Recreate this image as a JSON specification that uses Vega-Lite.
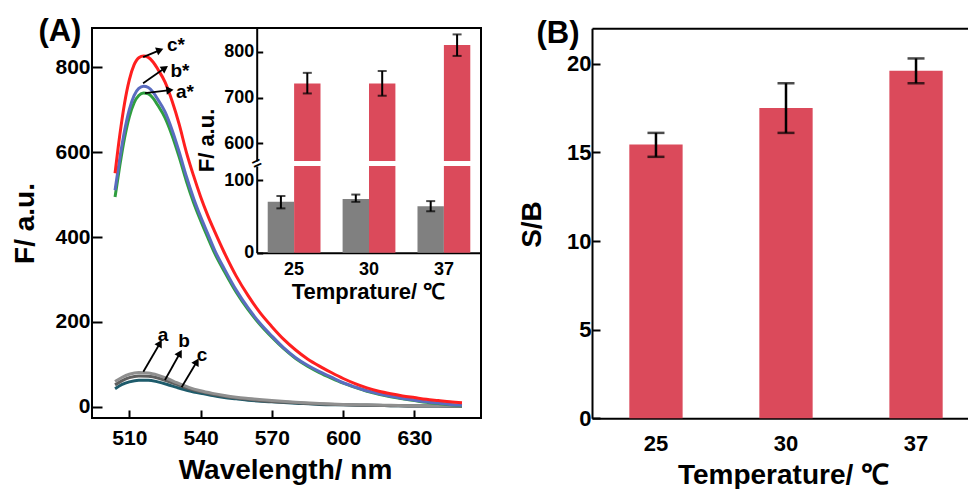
{
  "$schema": "https://vega.github.io/schema/vega-lite/v6.json",
  "width": 968,
  "height": 489,
  "autosize": "none",
  "padding": 0,
  "background": "white",
  "config": {
    "font": "Liberation Sans",
    "view": {"stroke": null},
    "axis": {
      "labelFont": "Liberation Sans", "labelFontWeight": "bold", "labelColor": "black",
      "titleFont": "Liberation Sans", "titleFontWeight": "bold", "titleColor": "black",
      "domainColor": "black", "domainWidth": 2, "tickColor": "black", "tickWidth": 2,
      "grid": false, "labelFlush": false, "labelOverlap": false
    },
    "text": {"font": "Liberation Sans", "fontWeight": "bold", "color": "black"}
  },
  "datasets": {
    "spectra": [
      {"curve":"c","wl":504,"F":43},{"curve":"c","wl":507,"F":53},{"curve":"c","wl":510,"F":59},{"curve":"c","wl":514,"F":63},{"curve":"c","wl":518,"F":63},{"curve":"c","wl":522,"F":59},{"curve":"c","wl":526,"F":53},{"curve":"c","wl":530,"F":46},{"curve":"c","wl":535,"F":38},{"curve":"c","wl":540,"F":32},{"curve":"c","wl":545,"F":27},{"curve":"c","wl":550,"F":22},{"curve":"c","wl":555,"F":19},{"curve":"c","wl":560,"F":16},{"curve":"c","wl":570,"F":12},{"curve":"c","wl":580,"F":9},{"curve":"c","wl":590,"F":6},{"curve":"c","wl":600,"F":5},{"curve":"c","wl":610,"F":4},{"curve":"c","wl":620,"F":3},{"curve":"c","wl":630,"F":2},{"curve":"c","wl":640,"F":2},{"curve":"c","wl":650,"F":1},
      {"curve":"b","wl":504,"F":52},{"curve":"b","wl":507,"F":62},{"curve":"b","wl":510,"F":69},{"curve":"b","wl":514,"F":73},{"curve":"b","wl":518,"F":72},{"curve":"b","wl":522,"F":68},{"curve":"b","wl":526,"F":61},{"curve":"b","wl":530,"F":53},{"curve":"b","wl":535,"F":43},{"curve":"b","wl":540,"F":36},{"curve":"b","wl":545,"F":30},{"curve":"b","wl":550,"F":25},{"curve":"b","wl":555,"F":21},{"curve":"b","wl":560,"F":18},{"curve":"b","wl":570,"F":13},{"curve":"b","wl":580,"F":10},{"curve":"b","wl":590,"F":7},{"curve":"b","wl":600,"F":5},{"curve":"b","wl":610,"F":4},{"curve":"b","wl":620,"F":3},{"curve":"b","wl":630,"F":2},{"curve":"b","wl":640,"F":2},{"curve":"b","wl":650,"F":1},
      {"curve":"a","wl":504,"F":60},{"curve":"a","wl":507,"F":70},{"curve":"a","wl":510,"F":77},{"curve":"a","wl":514,"F":81},{"curve":"a","wl":518,"F":80},{"curve":"a","wl":522,"F":75},{"curve":"a","wl":526,"F":67},{"curve":"a","wl":530,"F":57},{"curve":"a","wl":535,"F":46},{"curve":"a","wl":540,"F":38},{"curve":"a","wl":545,"F":32},{"curve":"a","wl":550,"F":27},{"curve":"a","wl":555,"F":23},{"curve":"a","wl":560,"F":20},{"curve":"a","wl":570,"F":15},{"curve":"a","wl":580,"F":11},{"curve":"a","wl":590,"F":8},{"curve":"a","wl":600,"F":6},{"curve":"a","wl":610,"F":5},{"curve":"a","wl":620,"F":4},{"curve":"a","wl":630,"F":3},{"curve":"a","wl":640,"F":3},{"curve":"a","wl":650,"F":2},
      {"curve":"a*","wl":504,"F":494},{"curve":"a*","wl":506,"F":568},{"curve":"a*","wl":508,"F":633},{"curve":"a*","wl":510,"F":683},{"curve":"a*","wl":512,"F":716},{"curve":"a*","wl":514,"F":733},{"curve":"a*","wl":516,"F":739},{"curve":"a*","wl":518,"F":737},{"curve":"a*","wl":520,"F":727},{"curve":"a*","wl":522,"F":710},{"curve":"a*","wl":525,"F":681},{"curve":"a*","wl":528,"F":639},{"curve":"a*","wl":531,"F":588},{"curve":"a*","wl":534,"F":532},{"curve":"a*","wl":537,"F":482},{"curve":"a*","wl":540,"F":439},{"curve":"a*","wl":543,"F":399},{"curve":"a*","wl":546,"F":361},{"curve":"a*","wl":550,"F":319},{"curve":"a*","wl":555,"F":270},{"curve":"a*","wl":560,"F":229},{"curve":"a*","wl":565,"F":194},{"curve":"a*","wl":570,"F":164},{"curve":"a*","wl":575,"F":137},{"curve":"a*","wl":580,"F":114},{"curve":"a*","wl":585,"F":96},{"curve":"a*","wl":590,"F":81},{"curve":"a*","wl":595,"F":68},{"curve":"a*","wl":600,"F":56},{"curve":"a*","wl":605,"F":46},{"curve":"a*","wl":610,"F":37},{"curve":"a*","wl":615,"F":30},{"curve":"a*","wl":620,"F":24},{"curve":"a*","wl":625,"F":19},{"curve":"a*","wl":630,"F":15},{"curve":"a*","wl":635,"F":11},{"curve":"a*","wl":640,"F":8},{"curve":"a*","wl":645,"F":5},{"curve":"a*","wl":650,"F":3},
      {"curve":"b*","wl":504,"F":510},{"curve":"b*","wl":506,"F":585},{"curve":"b*","wl":508,"F":650},{"curve":"b*","wl":510,"F":700},{"curve":"b*","wl":512,"F":733},{"curve":"b*","wl":514,"F":750},{"curve":"b*","wl":516,"F":755},{"curve":"b*","wl":518,"F":752},{"curve":"b*","wl":520,"F":741},{"curve":"b*","wl":522,"F":724},{"curve":"b*","wl":525,"F":695},{"curve":"b*","wl":528,"F":652},{"curve":"b*","wl":531,"F":600},{"curve":"b*","wl":534,"F":543},{"curve":"b*","wl":537,"F":492},{"curve":"b*","wl":540,"F":448},{"curve":"b*","wl":543,"F":408},{"curve":"b*","wl":546,"F":368},{"curve":"b*","wl":550,"F":325},{"curve":"b*","wl":555,"F":275},{"curve":"b*","wl":560,"F":233},{"curve":"b*","wl":565,"F":197},{"curve":"b*","wl":570,"F":167},{"curve":"b*","wl":575,"F":139},{"curve":"b*","wl":580,"F":116},{"curve":"b*","wl":585,"F":98},{"curve":"b*","wl":590,"F":83},{"curve":"b*","wl":595,"F":70},{"curve":"b*","wl":600,"F":57},{"curve":"b*","wl":605,"F":47},{"curve":"b*","wl":610,"F":38},{"curve":"b*","wl":615,"F":31},{"curve":"b*","wl":620,"F":25},{"curve":"b*","wl":625,"F":20},{"curve":"b*","wl":630,"F":16},{"curve":"b*","wl":635,"F":12},{"curve":"b*","wl":640,"F":9},{"curve":"b*","wl":645,"F":6},{"curve":"b*","wl":650,"F":4},
      {"curve":"c*","wl":504,"F":550},{"curve":"c*","wl":506,"F":640},{"curve":"c*","wl":508,"F":715},{"curve":"c*","wl":510,"F":770},{"curve":"c*","wl":512,"F":805},{"curve":"c*","wl":514,"F":822},{"curve":"c*","wl":516,"F":826},{"curve":"c*","wl":518,"F":823},{"curve":"c*","wl":520,"F":812},{"curve":"c*","wl":522,"F":795},{"curve":"c*","wl":525,"F":765},{"curve":"c*","wl":528,"F":720},{"curve":"c*","wl":531,"F":665},{"curve":"c*","wl":534,"F":600},{"curve":"c*","wl":537,"F":545},{"curve":"c*","wl":540,"F":495},{"curve":"c*","wl":543,"F":451},{"curve":"c*","wl":546,"F":412},{"curve":"c*","wl":550,"F":363},{"curve":"c*","wl":555,"F":308},{"curve":"c*","wl":560,"F":262},{"curve":"c*","wl":565,"F":222},{"curve":"c*","wl":570,"F":189},{"curve":"c*","wl":575,"F":159},{"curve":"c*","wl":580,"F":134},{"curve":"c*","wl":585,"F":113},{"curve":"c*","wl":590,"F":96},{"curve":"c*","wl":595,"F":81},{"curve":"c*","wl":600,"F":67},{"curve":"c*","wl":605,"F":55},{"curve":"c*","wl":610,"F":45},{"curve":"c*","wl":615,"F":37},{"curve":"c*","wl":620,"F":31},{"curve":"c*","wl":625,"F":26},{"curve":"c*","wl":630,"F":22},{"curve":"c*","wl":635,"F":18},{"curve":"c*","wl":640,"F":15},{"curve":"c*","wl":645,"F":12},{"curve":"c*","wl":650,"F":10}
    ],
    "arrows": [
      {"name":"c*","wl":515.8,"F":823.5,"wl2":522.9,"F2":840},
      {"name":"b*","wl":515.8,"F":762,"wl2":525,"F2":797.6},
      {"name":"a*","wl":516.6,"F":738.8,"wl2":527.1,"F2":745.9},
      {"name":"a","wl":515.9,"F":83,"wl2":522.9,"F2":150},
      {"name":"b","wl":525,"F":63.5,"wl2":531.3,"F2":126.4},
      {"name":"c","wl":532,"F":46.4,"wl2":538.4,"F2":106.6}
    ],
    "labelsBig": [
      {"label":"c*","wl":529.6,"F":851.8},
      {"label":"b*","wl":531.3,"F":790},
      {"label":"a*","wl":533.4,"F":741}
    ],
    "labelsSmall": [
      {"label":"a","wl":524.2,"F":169},
      {"label":"b","wl":533,"F":155},
      {"label":"c","wl":540.6,"F":122}
    ],
    "panels": [
      {"label":"(A)","wl":480.8,"F":882.6},
      {"label":"(B)","wl":690.4,"F":877.9}
    ],
    "brk": [{"wl":563.7,"F":573}],
    "inset": [
      {"temp":"25","series":"blank","F":70,"lo":61,"hi":78},
      {"temp":"25","series":"signal","F":731,"lo":709,"hi":754},
      {"temp":"30","series":"blank","F":74,"lo":70,"hi":80},
      {"temp":"30","series":"signal","F":731,"lo":704,"hi":758},
      {"temp":"37","series":"blank","F":64,"lo":57,"hi":71},
      {"temp":"37","series":"signal","F":815,"lo":791,"hi":838}
    ],
    "sb": [
      {"temp":"25","SB":15.45,"lo":14.75,"hi":16.1},
      {"temp":"30","SB":17.5,"lo":16.1,"hi":18.9},
      {"temp":"37","SB":19.6,"lo":18.9,"hi":20.3}
    ]
  },
  "layer": [
    {
      "layer": [
        {
          "data": {"name": "spectra"},
          "mark": {"type": "line", "interpolate": "monotone", "strokeWidth": 3},
          "encoding": {
            "x": {"field": "wl", "type": "quantitative", "scale": {"domain": [494.3, 658], "range": [92, 481], "nice": false, "zero": false},
                  "axis": {"orient": "bottom", "offset": -71, "values": [510, 540, 570, 600, 630], "tickSize": -8, "labelPadding": 17, "labelFontSize": 21, "domain": false,
                           "title": "Wavelength/ nm", "titleFontSize": 28, "titleX": 285, "titleY": 52, "titleBaseline": "middle", "titleAlign": "center"}},
            "y": {"field": "F", "type": "quantitative", "scale": {"domain": [-26, 892], "range": [418, 28], "nice": false, "zero": false},
                  "axis": {"orient": "left", "offset": -92, "values": [0, 200, 400, 600, 800], "tickSize": -10, "labelPadding": 12, "labelFontSize": 21, "domain": false,
                           "title": "F/ a.u.", "titleFontSize": 28, "titleX": -67, "titleY": 223, "titleBaseline": "middle", "titleAlign": "center"}},
            "color": {"field": "curve", "type": "nominal", "legend": null,
                      "scale": {"domain": ["c", "b", "a", "a*", "b*", "c*"], "range": ["#1e5b6b", "#5f5f5f", "#8f8f8f", "#2e9e3e", "#5a6cc0", "#ff1f1f"]}}
          }
        },
        {
          "data": {"values": [{}]},
          "mark": {"type": "rect", "fill": "transparent", "stroke": "black", "strokeWidth": 2},
          "encoding": {
            "x": {"datum": 494.3, "type": "quantitative", "scale": {"domain": [494.3, 658], "range": [92, 481], "nice": false, "zero": false}},
            "x2": {"datum": 658},
            "y": {"datum": -26, "type": "quantitative", "scale": {"domain": [-26, 892], "range": [418, 28], "nice": false, "zero": false}},
            "y2": {"datum": 892}
          }
        },
        {
          "data": {"name": "arrows"},
          "mark": {"type": "rule", "color": "black", "strokeWidth": 1.8},
          "encoding": {
            "x": {"field": "wl", "type": "quantitative", "scale": {"domain": [494.3, 658], "range": [92, 481], "nice": false, "zero": false}},
            "y": {"field": "F", "type": "quantitative", "scale": {"domain": [-26, 892], "range": [418, 28], "nice": false, "zero": false}},
            "x2": {"field": "wl2"},
            "y2": {"field": "F2"}
          }
        },
        {
          "data": {"name": "arrows"},
          "transform": [{"filter": "datum.name === 'c*'"}],
          "mark": {"type": "point", "shape": "triangle-up", "filled": true, "color": "black", "opacity": 1, "size": 70, "angle": 68},
          "encoding": {
            "x": {"field": "wl2", "type": "quantitative", "scale": {"domain": [494.3, 658], "range": [92, 481], "nice": false, "zero": false}},
            "y": {"field": "F2", "type": "quantitative", "scale": {"domain": [-26, 892], "range": [418, 28], "nice": false, "zero": false}}
          }
        },
        {
          "data": {"name": "arrows"},
          "transform": [{"filter": "datum.name === 'b*'"}],
          "mark": {"type": "point", "shape": "triangle-up", "filled": true, "color": "black", "opacity": 1, "size": 70, "angle": 56},
          "encoding": {
            "x": {"field": "wl2", "type": "quantitative", "scale": {"domain": [494.3, 658], "range": [92, 481], "nice": false, "zero": false}},
            "y": {"field": "F2", "type": "quantitative", "scale": {"domain": [-26, 892], "range": [418, 28], "nice": false, "zero": false}}
          }
        },
        {
          "data": {"name": "arrows"},
          "transform": [{"filter": "datum.name === 'a*'"}],
          "mark": {"type": "point", "shape": "triangle-up", "filled": true, "color": "black", "opacity": 1, "size": 70, "angle": 83},
          "encoding": {
            "x": {"field": "wl2", "type": "quantitative", "scale": {"domain": [494.3, 658], "range": [92, 481], "nice": false, "zero": false}},
            "y": {"field": "F2", "type": "quantitative", "scale": {"domain": [-26, 892], "range": [418, 28], "nice": false, "zero": false}}
          }
        },
        {
          "data": {"name": "arrows"},
          "transform": [{"filter": "datum.name === 'a' || datum.name === 'b' || datum.name === 'c'"}],
          "mark": {"type": "point", "shape": "triangle-up", "filled": true, "color": "black", "opacity": 1, "size": 70, "angle": 30},
          "encoding": {
            "x": {"field": "wl2", "type": "quantitative", "scale": {"domain": [494.3, 658], "range": [92, 481], "nice": false, "zero": false}},
            "y": {"field": "F2", "type": "quantitative", "scale": {"domain": [-26, 892], "range": [418, 28], "nice": false, "zero": false}}
          }
        },
        {
          "data": {"name": "labelsBig"},
          "mark": {"type": "text", "fontSize": 19, "align": "center", "baseline": "middle"},
          "encoding": {
            "x": {"field": "wl", "type": "quantitative", "scale": {"domain": [494.3, 658], "range": [92, 481], "nice": false, "zero": false}},
            "y": {"field": "F", "type": "quantitative", "scale": {"domain": [-26, 892], "range": [418, 28], "nice": false, "zero": false}},
            "text": {"field": "label"}
          }
        },
        {
          "data": {"name": "labelsSmall"},
          "mark": {"type": "text", "fontSize": 19, "align": "center", "baseline": "middle"},
          "encoding": {
            "x": {"field": "wl", "type": "quantitative", "scale": {"domain": [494.3, 658], "range": [92, 481], "nice": false, "zero": false}},
            "y": {"field": "F", "type": "quantitative", "scale": {"domain": [-26, 892], "range": [418, 28], "nice": false, "zero": false}},
            "text": {"field": "label"}
          }
        },
        {
          "data": {"name": "panels"},
          "mark": {"type": "text", "fontSize": 31, "align": "center", "baseline": "middle"},
          "encoding": {
            "x": {"field": "wl", "type": "quantitative", "scale": {"domain": [494.3, 658], "range": [92, 481], "nice": false, "zero": false}},
            "y": {"field": "F", "type": "quantitative", "scale": {"domain": [-26, 892], "range": [418, 28], "nice": false, "zero": false}},
            "text": {"field": "label"}
          }
        },
        {
          "data": {"name": "brk"},
          "mark": {"type": "text", "fontSize": 16, "align": "center", "baseline": "middle", "angle": -25, "text": "="},
          "encoding": {
            "x": {"field": "wl", "type": "quantitative", "scale": {"domain": [494.3, 658], "range": [92, 481], "nice": false, "zero": false}},
            "y": {"field": "F", "type": "quantitative", "scale": {"domain": [-26, 892], "range": [418, 28], "nice": false, "zero": false}}
          }
        }
      ]
    },
    {
      "data": {"name": "inset"},
      "layer": [
        {
          "mark": {"type": "bar"},
          "encoding": {
            "x": {"field": "temp", "type": "nominal", "scale": {"type": "band", "domain": ["25", "30", "37"], "range": [257, 481], "paddingInner": 0.295, "paddingOuter": 0.143},
                  "axis": {"orient": "bottom", "offset": -236.3, "ticks": false, "labelPadding": 8, "labelFontSize": 18, "labelAngle": 0, "domain": true,
                           "title": "Temprature/ ℃", "titleFontSize": 22, "titleX": 368, "titleY": 38.5, "titleBaseline": "middle", "titleAlign": "center"}},
            "xOffset": {"field": "series", "type": "nominal", "scale": {"type": "band", "domain": ["blank", "signal"], "paddingInner": 0, "paddingOuter": 0}},
            "y": {"field": "F", "type": "quantitative", "scale": {"domain": [0, 119.3], "range": [252.7, 166], "nice": false, "zero": false, "clamp": true},
                  "axis": {"orient": "left", "offset": -256.7, "values": [0, 100], "tickSize": -6, "labelPadding": 9, "labelFontSize": 18, "domain": true, "title": null}},
            "y2": {"datum": 0},
            "color": {"field": "series", "type": "nominal", "legend": null, "scale": {"domain": ["blank", "signal"], "range": ["#808080", "#db4a5b"]}}
          }
        },
        {
          "transform": [{"filter": "datum.series === 'blank'"}],
          "mark": {"type": "rule", "color": "black", "strokeWidth": 2},
          "encoding": {
            "x": {"field": "temp", "type": "nominal", "scale": {"type": "band", "domain": ["25", "30", "37"], "range": [257, 481], "paddingInner": 0.295, "paddingOuter": 0.143}},
            "xOffset": {"field": "series", "type": "nominal", "scale": {"type": "band", "domain": ["blank", "signal"], "paddingInner": 0, "paddingOuter": 0}},
            "y": {"field": "lo", "type": "quantitative", "scale": {"domain": [0, 119.3], "range": [252.7, 166], "nice": false, "zero": false, "clamp": true}},
            "y2": {"field": "hi"}
          }
        },
        {
          "transform": [{"filter": "datum.series === 'blank'"}],
          "mark": {"type": "tick", "color": "black", "thickness": 2, "size": 9, "orient": "horizontal"},
          "encoding": {
            "x": {"field": "temp", "type": "nominal", "scale": {"type": "band", "domain": ["25", "30", "37"], "range": [257, 481], "paddingInner": 0.295, "paddingOuter": 0.143}},
            "xOffset": {"field": "series", "type": "nominal", "scale": {"type": "band", "domain": ["blank", "signal"], "paddingInner": 0, "paddingOuter": 0}},
            "y": {"field": "lo", "type": "quantitative", "scale": {"domain": [0, 119.3], "range": [252.7, 166], "nice": false, "zero": false, "clamp": true}}
          }
        },
        {
          "transform": [{"filter": "datum.series === 'blank'"}],
          "mark": {"type": "tick", "color": "black", "thickness": 2, "size": 9, "orient": "horizontal"},
          "encoding": {
            "x": {"field": "temp", "type": "nominal", "scale": {"type": "band", "domain": ["25", "30", "37"], "range": [257, 481], "paddingInner": 0.295, "paddingOuter": 0.143}},
            "xOffset": {"field": "series", "type": "nominal", "scale": {"type": "band", "domain": ["blank", "signal"], "paddingInner": 0, "paddingOuter": 0}},
            "y": {"field": "hi", "type": "quantitative", "scale": {"domain": [0, 119.3], "range": [252.7, 166], "nice": false, "zero": false, "clamp": true}}
          }
        }
      ]
    },
    {
      "data": {"name": "inset"},
      "transform": [{"filter": "datum.series === 'signal'"}],
      "layer": [
        {
          "mark": {"type": "bar", "color": "#db4a5b"},
          "encoding": {
            "x": {"field": "temp", "type": "nominal", "scale": {"type": "band", "domain": ["25", "30", "37"], "range": [257, 481], "paddingInner": 0.295, "paddingOuter": 0.143}, "axis": null},
            "xOffset": {"field": "series", "type": "nominal", "scale": {"type": "band", "domain": ["blank", "signal"], "paddingInner": 0, "paddingOuter": 0}},
            "y": {"field": "F", "type": "quantitative", "scale": {"domain": [561.4, 852], "range": [161, 28], "nice": false, "zero": false, "clamp": true},
                  "axis": {"orient": "left", "offset": -256.7, "values": [600, 700, 800], "tickSize": -6, "labelPadding": 9, "labelFontSize": 18, "domain": true,
                           "title": "F/ a.u.", "titleFontSize": 22, "titleX": -50.7, "titleY": 140, "titleBaseline": "middle", "titleAlign": "center"}},
            "y2": {"datum": 0}
          }
        },
        {
          "mark": {"type": "rule", "color": "black", "strokeWidth": 2},
          "encoding": {
            "x": {"field": "temp", "type": "nominal", "scale": {"type": "band", "domain": ["25", "30", "37"], "range": [257, 481], "paddingInner": 0.295, "paddingOuter": 0.143}, "axis": null},
            "xOffset": {"field": "series", "type": "nominal", "scale": {"type": "band", "domain": ["blank", "signal"], "paddingInner": 0, "paddingOuter": 0}},
            "y": {"field": "lo", "type": "quantitative", "scale": {"domain": [561.4, 852], "range": [161, 28], "nice": false, "zero": false, "clamp": true}},
            "y2": {"field": "hi"}
          }
        },
        {
          "mark": {"type": "tick", "color": "black", "thickness": 2, "size": 9, "orient": "horizontal"},
          "encoding": {
            "x": {"field": "temp", "type": "nominal", "scale": {"type": "band", "domain": ["25", "30", "37"], "range": [257, 481], "paddingInner": 0.295, "paddingOuter": 0.143}, "axis": null},
            "xOffset": {"field": "series", "type": "nominal", "scale": {"type": "band", "domain": ["blank", "signal"], "paddingInner": 0, "paddingOuter": 0}},
            "y": {"field": "lo", "type": "quantitative", "scale": {"domain": [561.4, 852], "range": [161, 28], "nice": false, "zero": false, "clamp": true}}
          }
        },
        {
          "mark": {"type": "tick", "color": "black", "thickness": 2, "size": 9, "orient": "horizontal"},
          "encoding": {
            "x": {"field": "temp", "type": "nominal", "scale": {"type": "band", "domain": ["25", "30", "37"], "range": [257, 481], "paddingInner": 0.295, "paddingOuter": 0.143}, "axis": null},
            "xOffset": {"field": "series", "type": "nominal", "scale": {"type": "band", "domain": ["blank", "signal"], "paddingInner": 0, "paddingOuter": 0}},
            "y": {"field": "hi", "type": "quantitative", "scale": {"domain": [561.4, 852], "range": [161, 28], "nice": false, "zero": false, "clamp": true}}
          }
        }
      ]
    },
    {
      "data": {"name": "sb"},
      "layer": [
        {
          "mark": {"type": "bar", "color": "#db4a5b"},
          "encoding": {
            "x": {"field": "temp", "type": "nominal", "scale": {"type": "band", "domain": ["25", "30", "37"], "range": [592, 980], "paddingInner": 0.59, "paddingOuter": 0.287},
                  "axis": {"orient": "bottom", "offset": -70.7, "ticks": false, "labelPadding": 15, "labelFontSize": 22, "labelAngle": 0, "domain": true,
                           "title": "Temperature/ ℃", "titleFontSize": 28, "titleX": 783, "titleY": 56.7, "titleBaseline": "middle", "titleAlign": "center"}},
            "y": {"field": "SB", "type": "quantitative", "scale": {"domain": [0, 22], "range": [418.3, 28.3], "nice": false, "zero": false},
                  "axis": {"orient": "left", "offset": -592, "values": [0, 5, 10, 15, 20], "tickSize": -8, "labelPadding": 9, "labelFontSize": 22, "domain": true,
                           "title": "S/B", "titleFontSize": 28, "titleX": -60, "titleY": 224, "titleBaseline": "middle", "titleAlign": "center"}},
            "y2": {"datum": 0}
          }
        },
        {
          "mark": {"type": "tick", "color": "black", "thickness": 2.5, "size": 17, "orient": "horizontal"},
          "encoding": {
            "x": {"field": "temp", "type": "nominal", "scale": {"type": "band", "domain": ["25", "30", "37"], "range": [592, 980], "paddingInner": 0.59, "paddingOuter": 0.287}},
            "y": {"field": "lo", "type": "quantitative", "scale": {"domain": [0, 22], "range": [418.3, 28.3], "nice": false, "zero": false}}
          }
        },
        {
          "mark": {"type": "tick", "color": "black", "thickness": 2.5, "size": 17, "orient": "horizontal"},
          "encoding": {
            "x": {"field": "temp", "type": "nominal", "scale": {"type": "band", "domain": ["25", "30", "37"], "range": [592, 980], "paddingInner": 0.59, "paddingOuter": 0.287}},
            "y": {"field": "hi", "type": "quantitative", "scale": {"domain": [0, 22], "range": [418.3, 28.3], "nice": false, "zero": false}}
          }
        }
      ]
    },
    {
      "data": {"name": "sb"},
      "mark": {"type": "rule", "color": "black", "strokeWidth": 2.5},
      "encoding": {
        "x": {"field": "temp", "type": "nominal", "scale": {"type": "band", "domain": ["25", "30", "37"], "range": [592, 980], "paddingInner": 0.59, "paddingOuter": 0.287},
              "axis": {"orient": "top", "offset": -28.3, "labels": false, "ticks": false, "domain": true, "title": null}},
        "y": {"field": "lo", "type": "quantitative", "scale": {"domain": [0, 22], "range": [418.3, 28.3], "nice": false, "zero": false}, "axis": null},
        "y2": {"field": "hi"}
      }
    }
  ],
  "resolve": {
    "scale": {"x": "independent", "y": "independent", "color": "independent", "xOffset": "independent"},
    "axis": {"x": "independent", "y": "independent"}
  }
}
